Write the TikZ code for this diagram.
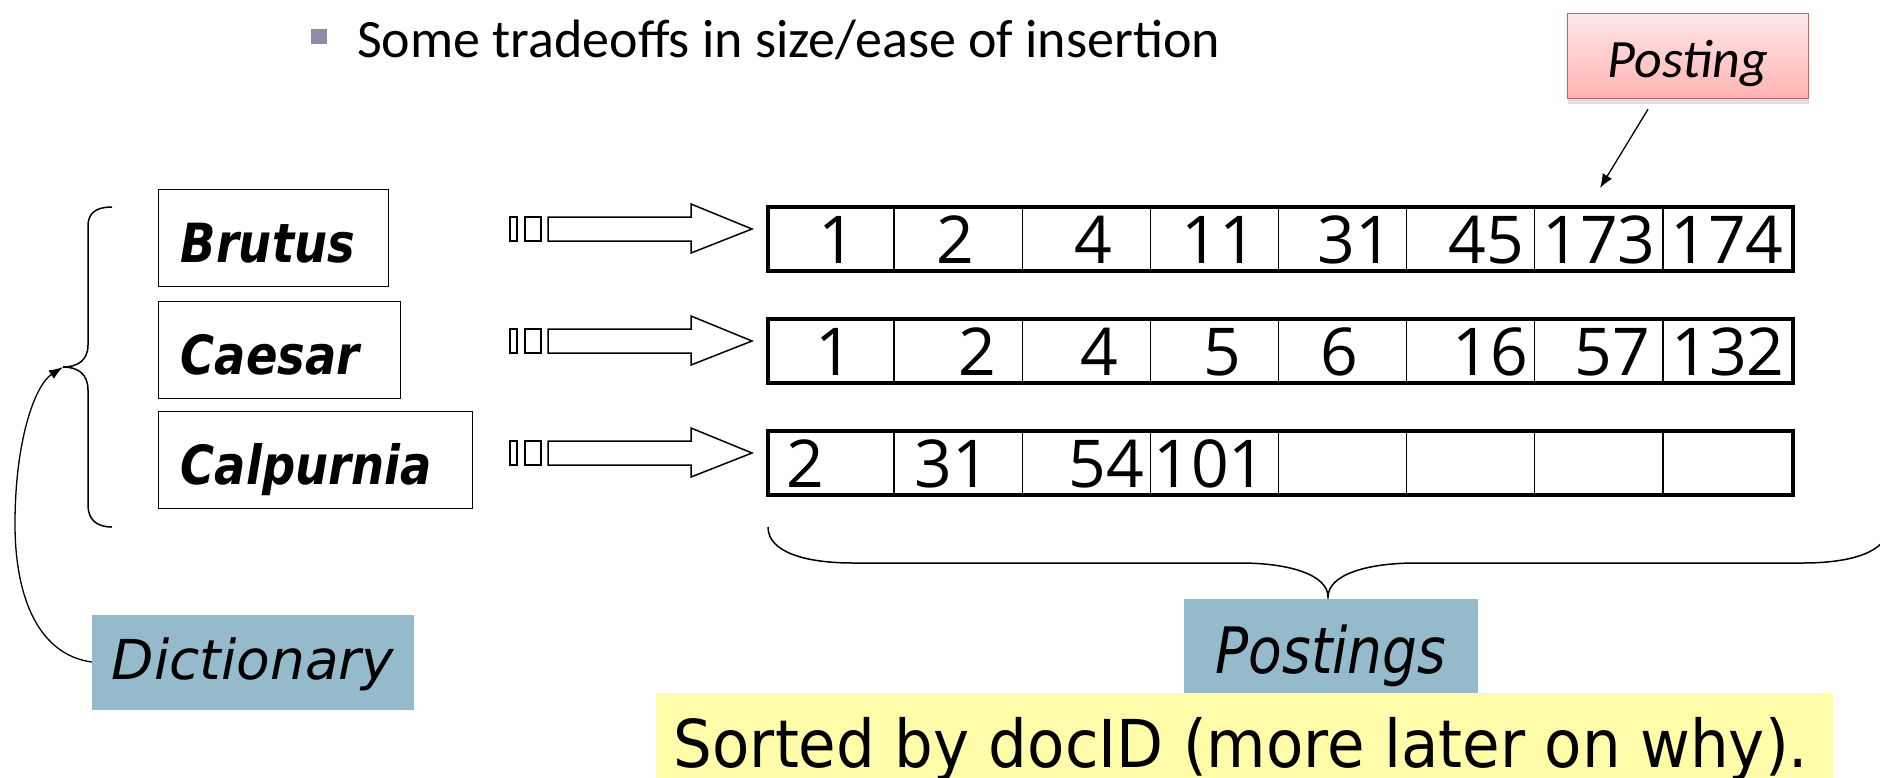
\documentclass[tikz,border=0pt]{standalone}
\usepackage{fontspec}
\setmainfont{Carlito}
\newfontfamily\termfont[FakeStretch=0.86]{DejaVu Sans}
\newfontfamily\labelfont{DejaVu Sans}
\newfontfamily\postfont[FakeStretch=0.86]{DejaVu Sans}
\newfontfamily\sortfont[FakeStretch=0.925]{DejaVu Sans}
\newfontfamily\numfont{Open Sans}
\usetikzlibrary{arrows.meta,shadows}

\definecolor{labelblue}{HTML}{95BACB}
\definecolor{noteyellow}{HTML}{FFFCAA}
\definecolor{bulletgray}{HTML}{8F8CA8}
\definecolor{pinktop}{HTML}{FFE8E8}
\definecolor{pinkbot}{HTML}{FFB3B1}
\definecolor{pinkline}{HTML}{C9605C}

\begin{document}
\begin{tikzpicture}[x=1pt, y=-1pt,
  termbox/.style={draw, line width=1.4pt, anchor=north west, minimum height=97pt,
    inner xsep=22pt, align=left, text height=48pt, text depth=0pt,
    font=\termfont\bfseries\itshape\fontsize{54}{54}\selectfont},
  rowbox/.style={draw, line width=4pt, anchor=north west, inner sep=0pt,
    minimum width=1025pt, minimum height=64pt},
  num/.style={anchor=base, inner sep=0pt, font=\numfont\fontsize{66}{66}\selectfont},
  tag/.style={fill=labelblue, inner sep=0pt, text depth=0pt}]
\useasboundingbox (0,0) rectangle (1880,777);

% heading
\fill[bulletgray] (311,29) rectangle (327,44);
\node[anchor=base west, inner sep=0pt, font=\fontsize{54}{54}\selectfont] (head) at (357,57)
  {Some tradeoffs in size/ease of insertion};

% dictionary terms
\node[termbox, text width=186pt] (brutus) at (158,189) {Brutus};
\node[termbox, text width=198pt] (caesar) at (158,301) {Caesar};
\node[termbox, text width=270pt] (calpurnia) at (158,411) {Calpurnia};

% block arrows
\foreach \r/\yc in {1/229,2/341,3/453} {
  \draw[line width=1.3pt] (510,\yc-12) rectangle (517,\yc+12);
  \draw[line width=1.3pt] (525,\yc-12) rectangle (541,\yc+12);
  \draw[line width=1.5pt, fill=white] (548,\yc-12) -- (691,\yc-12) -- (691,\yc-25)
    -- (752,\yc) -- (691,\yc+24) -- (691,\yc+12) -- (548,\yc+12) -- cycle;
}

% postings lists
\foreach \r/\top in {1/205,2/317,3/429} {
  \foreach \i in {1,...,7}
    \draw[line width=1.3pt] (766+\i*128.125,\top) -- ++(0,64);
  \node[rowbox] (row\r) at (766,\top) {};
}
\foreach \x/\v [count=\k] in {837/1,955/2,1093/4,1219/11,1355/31,1486/45,1599/173,1727/174}
  \node[num] (a\k) at (\x,263) {\v};
\foreach \x/\v [count=\k] in {834/1,977/2,1099/4,1222/5,1339/6,1490/16,1612/57,1728/132}
  \node[num] (b\k) at (\x,375) {\v};
\foreach \x/\v [count=\k] in {805/2,952/31,1106/54,1210/101}
  \node[num] (c\k) at (\x,487) {\v};

% single posting
\node[draw=pinkline, line width=1.5pt, top color=pinktop, bottom color=pinkbot,
  minimum width=241pt, minimum height=85pt, text height=43pt, text depth=0pt,
  drop shadow={opacity=0.25, shadow xshift=0pt, shadow yshift=-5pt},
  font=\itshape\fontsize{54}{54}\selectfont] (posting) at (1688,56) {Posting};
\coordinate (ptip) at (1600,188);
\draw[line width=1.3pt, -{Latex[length=14pt,width=11pt]}]
  ([xshift=-40pt,yshift=-10pt]posting.south) -- (ptip);

% left brace
\coordinate (dtip) at (63,367);
\draw[line width=1.5pt] (112,207) .. controls (96,207) and (88,213) .. (88,226)
  -- (88,345) .. controls (88,360) and (78,367) .. (dtip)
  .. controls (78,367) and (88,374) .. (88,390)
  -- (88,505) .. controls (88,519) and (96,527) .. (112,527);

\node[tag, minimum width=322pt, minimum height=95pt, text height=35pt,
  font=\labelfont\itshape\fontsize{55}{55}\selectfont] (dict) at (253,662) {Dictionary};
\draw[line width=1.3pt, -{Latex[length=14pt,width=10pt]}]
  (dict.west) .. controls (40,655) and (15,600) .. (15,524)
  .. controls (15,440) and (35,385) .. (dtip);

% bottom brace
\coordinate (btip) at (1328,597);
\draw[line width=1.5pt] (768,527) .. controls (768,552) and (805,563) .. (853,563)
  -- (1240,563) .. controls (1290,563) and (1328,575) .. (btip)
  .. controls (1328,575) and (1366,563) .. (1416,563)
  -- (1803,563) .. controls (1851,563) and (1888,552) .. (1888,527);

\node[tag, minimum width=294pt, minimum height=95pt, text height=55pt,
  font=\postfont\itshape\fontsize{64}{64}\selectfont] (postings) at (1331,646) {Postings};

\node[fill=noteyellow, inner sep=0pt, minimum width=1177pt, minimum height=100pt,
  text height=48pt, text depth=0pt, font=\sortfont\fontsize{66}{66}\selectfont]
  (sorted) at (1244,743) {};
\node[anchor=base, inner sep=0pt, font=\sortfont\fontsize{66}{66}\selectfont]
  (sortnote) at (1241,767) {Sorted by docID (more later on why).};
\end{tikzpicture}
\end{document}
